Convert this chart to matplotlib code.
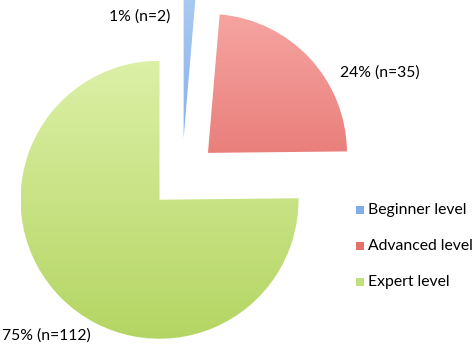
import matplotlib
matplotlib.use("Agg")
import matplotlib.pyplot as plt
import numpy as np
from matplotlib.colors import LinearSegmentedColormap
from matplotlib.patches import Rectangle

categories = ["Beginner level", "Advanced level", "Expert level"]
counts = [2, 35, 112]
pct_labels = ["1% (n=2)", "24% (n=35)", "75% (n=112)"]
explode = [0.28, 0.255, 0.23]
top_colors = ["#a9c9f2", "#f6a4a1", "#dcf0a6"]
bottom_colors = ["#6a9be0", "#dc5a55", "#b4d563"]
mid_colors = ["#7eaee9", "#e5706b", "#c3df7c"]

W, H = 472, 347
fig = plt.figure(figsize=(W / 100, H / 100), dpi=100)
ax = fig.add_axes([0, 0, 1, 1])
cx, cy, R = 182, 177, 139

wedges, _ = ax.pie(counts, explode=explode, startangle=90, counterclock=False,
                   colors=mid_colors, radius=1.0, wedgeprops=dict(linewidth=0))

# vertical gradient fill clipped to each wedge
for w, tc, bc in zip(wedges, top_colors, bottom_colors):
    w.set_facecolor("none")
    cmap = LinearSegmentedColormap.from_list("g", [tc, bc])
    grad = np.linspace(0, 1, 256).reshape(-1, 1)
    cxw, cyw = w.center
    im = ax.imshow(grad, cmap=cmap, aspect="auto",
                   extent=[cxw - 1, cxw + 1, cyw - 1, cyw + 1],
                   origin="upper", zorder=1)
    im.set_clip_path(w)

ax.set_aspect("equal")
ax.set_xlim(-cx / R, (W - cx) / R)
ax.set_ylim(-(H - cy) / R, cy / R)
ax.axis("off")

# labels (pixel positions converted to data coords)
def px(x, y):
    return ((x - cx) / R, (cy - y) / R)

fs = 11.3
fam = ["Lato", "DejaVu Sans"]
ax.text(*px(170, 17), pct_labels[0], ha="right", va="center", fontsize=fs, family=fam)
ax.text(*px(340, 73), pct_labels[1], ha="left", va="center", fontsize=fs, family=fam)
ax.text(*px(2, 336), pct_labels[2], ha="left", va="center", fontsize=fs, family=fam)

# legend
leg_y = [210, 246, 282]
for cat, y, tc, bc, mc in zip(categories, leg_y, top_colors, bottom_colors, mid_colors):
    x0, y0 = px(356, y + 4)
    s = 8 / R
    ax.add_patch(Rectangle((x0, y0), s, s, facecolor=mc, edgecolor="none"))
    ax.text(*px(368, y), cat, ha="left", va="center", fontsize=fs, family=fam)

fig.savefig("out.png", dpi=100)
